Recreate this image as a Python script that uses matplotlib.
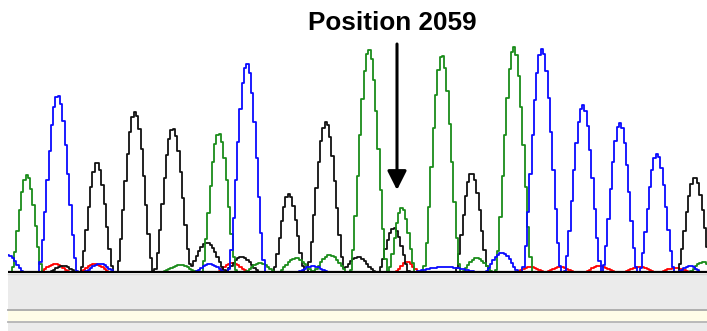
import numpy as np
import matplotlib
matplotlib.use("Agg")
import matplotlib.pyplot as plt

# peak centres (scan), heights (signal) and half base widths per channel
green_pos = [27, 180, 219, 260, 296, 330, 369, 402, 442, 477, 514, 703]
green_amp = [97, 7, 139, 9, 14, 17, 222, 64, 217, 14, 225, 10]
green_wid = [16, 18, 18, 16, 18, 18, 19, 14, 19, 16, 19, 14]

blue_pos = [8, 58, 100, 210, 247, 313, 445, 502, 542, 583, 620, 657, 690]
blue_amp = [17, 177, 8, 8, 208, 6, 5, 19, 223, 167, 149, 118, 6]
blue_wid = [16, 20, 16, 16, 19, 16, 35, 18, 20, 19, 18, 18, 12]

black_pos = [63, 97, 135, 173, 207, 242, 289, 326, 358, 394, 472, 695]
black_amp = [6, 110, 160, 144, 29, 15, 78, 150, 15, 44, 99, 95]
black_wid = [14, 17, 19, 19, 20, 18, 16, 19, 18, 16, 17, 18]

red_pos = [55, 95, 233, 407, 530, 560, 600, 640, 675]
red_amp = [8, 8, 9, 10, 5, 5, 6, 5, 4]
red_wid = [16, 16, 16, 12, 16, 16, 16, 16, 16]

mutation_scan = 397
label = "Position 2059"


def trace(x, pos, amp, wid):
    y = np.zeros_like(x)
    for p, a, w in zip(pos, amp, wid):
        u = np.clip((x - p) / w, -1, 1)
        y += a * (1 - u ** 2) ** 2
    return y


W, H = 707, 331
fig = plt.figure(figsize=(W / 100, H / 100), dpi=100)

# background panels in pixel coordinates
bg = fig.add_axes([0, 0, 1, 1])
bg.set_xlim(0, W)
bg.set_ylim(H, 0)
bg.axis("off")
bg.fill_between([8, W], 273, 309, color="#ebebeb", lw=0)
bg.fill_between([8, W], 310, 321, color="#fffde8", lw=0)
bg.fill_between([8, W], 322, H, color="#ebebeb", lw=0)
bg.plot([8, W], [273.5, 273.5], color="#d6d6d6", lw=1)
bg.plot([8, W], [309.5, 309.5], color="#a8a8a8", lw=1.3)
bg.plot([8, W], [321.5, 321.5], color="#b4b4b4", lw=1.3)

# chromatogram axes
ax = fig.add_axes([8 / W, (H - 273) / H, (W - 8) / W, 273 / H])
ax.set_xlim(8, W)
ax.set_ylim(-1, 272)
ax.axis("off")

x = np.arange(6, W + 2, 2.3)
lw = 1.3
ax.plot(x, trace(x, red_pos, red_amp, red_wid), color="#ff0000", lw=lw,
        drawstyle="steps-mid")
ax.plot(x, trace(x, black_pos, black_amp, black_wid), color="#111111", lw=lw,
        drawstyle="steps-mid")
ax.plot(x, trace(x, green_pos, green_amp, green_wid), color="#1a8c1a", lw=lw,
        drawstyle="steps-mid")
ax.plot(x, trace(x, blue_pos, blue_amp, blue_wid), color="#0a0aff", lw=lw,
        drawstyle="steps-mid")
ax.axhline(0, color="black", lw=1.6)

ax.annotate("", xy=(mutation_scan, 82), xytext=(mutation_scan, 228),
            arrowprops=dict(arrowstyle="-|>,head_length=1.15,head_width=0.58",
                            lw=2.2, color="black", shrinkA=0, shrinkB=0))
bg.text(392, 30, label, ha="center", va="baseline", fontsize=18.8,
        fontweight="bold", family="Liberation Sans")

fig.savefig("out.png", dpi=100)
